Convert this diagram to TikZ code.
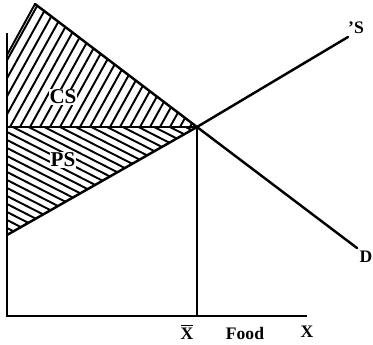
\documentclass[tikz,border=0pt]{standalone}
\usepackage{fontspec}
\setmainfont{Liberation Serif}
\usetikzlibrary{calc}

\begin{document}
\begin{tikzpicture}[
    x=0.02cm, y=-0.02cm,
    axis/.style={line width=1.3pt},
    curve/.style={line width=1.4pt, line cap=round},
    hatch/.style={line width=1.1pt},
    lbl/.style={font=\bfseries, inner sep=1pt},
    area/.style={font=\large\bfseries, fill=white, inner sep=0.5pt},
]
\useasboundingbox (0,0) rectangle (373,345);

% === Key points ===
\coordinate (O) at (7,316);
\coordinate (ytop) at (7,33);
\coordinate (xend) at (307,316);
\coordinate (E) at (197,127);
\coordinate (P) at (7,127);
\coordinate (Xb) at (197,316);
\coordinate (Dtop) at (35,4);
\coordinate (Dend) at (357,248);
\coordinate (Sbot) at (7,235);
\coordinate (Send) at (348,37);
\coordinate (CScorner) at (7,55);

% === Consumer surplus hatching ===
\begin{scope}
\clip (P) -- (E) -- (Dtop) -- (CScorner) -- cycle;
\foreach \i in {-20,...,22}
  \draw[hatch] ($(\i*10,127)$) -- ++(-61:-260) -- ++(-61:520);
\end{scope}
\draw[hatch] (CScorner) -- (Dtop);

% === Producer surplus hatching ===
\begin{scope}
\clip (P) -- (E) -- (Sbot) -- cycle;
\foreach \i in {-14,...,16}
  \draw[hatch] ($(7,124+\i*8)$) -- ++(27:260);
\end{scope}

% === Axes ===
\draw[axis] (ytop) -- (O) -- (xend);
\draw[axis] (P) -- (E) -- (Xb);

% === Demand and supply ===
\draw[curve] (Dtop) -- (E) -- (Dend);
\draw[curve] (Sbot) -- (E) -- (Send);

% === Labels ===
\node[area] (cs) at (63,97) {CS};
\node[area] (ps) at (63,160) {PS};
\node[lbl] (slbl) at (356,28) {'S};
\node[lbl] (dlbl) at (366,257) {D};
\node[lbl] (xbar) at (187,332) {$\overline{\mbox{X}}$};
\node[lbl] (food) at (245,333) {Food};
\node[lbl] (xlbl) at (307,332) {X};

\end{tikzpicture}
\end{document}
